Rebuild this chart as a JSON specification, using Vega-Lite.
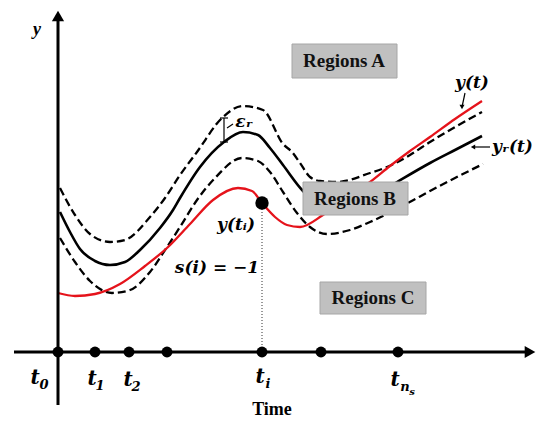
{
  "$schema": "https://vega.github.io/schema/vega-lite/v6.json",
  "width": 543,
  "height": 421,
  "autosize": {"type": "fit", "contains": "padding"},
  "padding": 0,
  "background": "white",
  "config": {"view": {"stroke": null}},
  "datasets": {
    "curves": [
      {"series": "yr", "t": 2, "v": 140}, {"series": "yr", "t": 12, "v": 120}, {"series": "yr", "t": 22, "v": 103}, {"series": "yr", "t": 37, "v": 91}, {"series": "yr", "t": 52, "v": 87}, {"series": "yr", "t": 67, "v": 90}, {"series": "yr", "t": 82, "v": 102}, {"series": "yr", "t": 102, "v": 124}, {"series": "yr", "t": 115, "v": 142}, {"series": "yr", "t": 122, "v": 154}, {"series": "yr", "t": 142, "v": 185}, {"series": "yr", "t": 166, "v": 210}, {"series": "yr", "t": 185, "v": 220}, {"series": "yr", "t": 200, "v": 217}, {"series": "yr", "t": 212, "v": 204}, {"series": "yr", "t": 225, "v": 187}, {"series": "yr", "t": 245, "v": 161}, {"series": "yr", "t": 267, "v": 145}, {"series": "yr", "t": 292, "v": 146}, {"series": "yr", "t": 317, "v": 157}, {"series": "yr", "t": 339, "v": 170}, {"series": "yr", "t": 372, "v": 189}, {"series": "yr", "t": 397, "v": 202}, {"series": "yr", "t": 424, "v": 216},
      {"series": "upper", "t": 2, "v": 164}, {"series": "upper", "t": 17, "v": 137}, {"series": "upper", "t": 32, "v": 118}, {"series": "upper", "t": 52, "v": 110}, {"series": "upper", "t": 67, "v": 112}, {"series": "upper", "t": 92, "v": 135}, {"series": "upper", "t": 107, "v": 154}, {"series": "upper", "t": 122, "v": 177}, {"series": "upper", "t": 139, "v": 200}, {"series": "upper", "t": 164, "v": 234}, {"series": "upper", "t": 185, "v": 246}, {"series": "upper", "t": 205, "v": 242}, {"series": "upper", "t": 225, "v": 208}, {"series": "upper", "t": 234, "v": 200}, {"series": "upper", "t": 242, "v": 189}, {"series": "upper", "t": 252, "v": 175}, {"series": "upper", "t": 262, "v": 171}, {"series": "upper", "t": 279, "v": 170}, {"series": "upper", "t": 312, "v": 179}, {"series": "upper", "t": 329, "v": 185}, {"series": "upper", "t": 352, "v": 197}, {"series": "upper", "t": 372, "v": 210}, {"series": "upper", "t": 397, "v": 225}, {"series": "upper", "t": 424, "v": 240},
      {"series": "lower", "t": 2, "v": 114}, {"series": "lower", "t": 17, "v": 90}, {"series": "lower", "t": 32, "v": 71}, {"series": "lower", "t": 54, "v": 59}, {"series": "lower", "t": 72, "v": 62}, {"series": "lower", "t": 92, "v": 80}, {"series": "lower", "t": 109, "v": 105}, {"series": "lower", "t": 122, "v": 125}, {"series": "lower", "t": 139, "v": 152}, {"series": "lower", "t": 157, "v": 174}, {"series": "lower", "t": 184, "v": 194}, {"series": "lower", "t": 200, "v": 191}, {"series": "lower", "t": 212, "v": 180}, {"series": "lower", "t": 225, "v": 160}, {"series": "lower", "t": 239, "v": 139}, {"series": "lower", "t": 252, "v": 125}, {"series": "lower", "t": 269, "v": 118}, {"series": "lower", "t": 292, "v": 122}, {"series": "lower", "t": 312, "v": 130}, {"series": "lower", "t": 350, "v": 149}, {"series": "lower", "t": 372, "v": 161}, {"series": "lower", "t": 397, "v": 174}, {"series": "lower", "t": 425, "v": 188},
      {"series": "y", "t": 0, "v": 59}, {"series": "y", "t": 17, "v": 56}, {"series": "y", "t": 37, "v": 58}, {"series": "y", "t": 62, "v": 68}, {"series": "y", "t": 87, "v": 86}, {"series": "y", "t": 109, "v": 104}, {"series": "y", "t": 132, "v": 128}, {"series": "y", "t": 155, "v": 152}, {"series": "y", "t": 180, "v": 164}, {"series": "y", "t": 194, "v": 161}, {"series": "y", "t": 204, "v": 149}, {"series": "y", "t": 217, "v": 135}, {"series": "y", "t": 229, "v": 127}, {"series": "y", "t": 242, "v": 125}, {"series": "y", "t": 265, "v": 137}, {"series": "y", "t": 287, "v": 153}, {"series": "y", "t": 312, "v": 170}, {"series": "y", "t": 332, "v": 186}, {"series": "y", "t": 352, "v": 201}, {"series": "y", "t": 372, "v": 215}, {"series": "y", "t": 397, "v": 233}, {"series": "y", "t": 424, "v": 251}
    ],
    "marker": [{"t": 204, "v": 149, "base": 0}],
    "axes": [
      {"t": 0, "v": -53, "t2": 0, "v2": 336},
      {"t": -44, "v": 0, "t2": 472, "v2": 0}
    ],
    "samples": [
      {"label": "t0", "t": 0, "v": 0}, {"label": "t1", "t": 37, "v": 0}, {"label": "t2", "t": 71, "v": 0}, {"label": "t3", "t": 109, "v": 0},
      {"label": "ti", "t": 204, "v": 0}, {"label": "t5", "t": 263, "v": 0}, {"label": "tns", "t": 340, "v": 0}
    ],
    "pointers": [
      {"t": 407, "v": 259, "t2": 404, "v2": 245},
      {"t": 432, "v": 205, "t2": 415, "v2": 205},
      {"t": 166, "v": 234, "t2": 166, "v2": 210},
      {"t": 162, "v": 234, "t2": 170, "v2": 234},
      {"t": 162, "v": 210, "t2": 170, "v2": 210},
      {"t": 175, "v": 228, "t2": 169, "v2": 224}
    ],
    "boxes": [
      {"name": "Regions A", "t": 234, "t2": 339, "v": 274, "v2": 308, "tc": 286, "vc": 291},
      {"name": "Regions B", "t": 245, "t2": 350, "v": 137, "v2": 170, "tc": 297, "vc": 153},
      {"name": "Regions C", "t": 262, "t2": 368, "v": 38, "v2": 70, "tc": 315, "vc": 54}
    ],
    "mathLabels": [
      {"text": "y(t)", "t": 414, "v": 269},
      {"text": "y(tᵢ)", "t": 178, "v": 127},
      {"text": "s(i) = −1", "t": 159, "v": 84},
      {"text": "εᵣ", "t": 186, "v": 230}
    ],
    "timeBase": [
      {"text": "t", "t": -23, "v": -26},
      {"text": "t", "t": 34, "v": -27},
      {"text": "t", "t": 70, "v": -28},
      {"text": "t", "t": 202, "v": -25},
      {"text": "t", "t": 337, "v": -28}
    ],
    "timeSub": [
      {"text": "0", "t": -14, "v": -33},
      {"text": "1", "t": 42, "v": -34},
      {"text": "2", "t": 78, "v": -35},
      {"text": "i", "t": 210, "v": -32},
      {"text": "n", "t": 347, "v": -35}
    ],
    "timeSubSub": [
      {"text": "s", "t": 354, "v": -40}
    ],
    "leftLabels": [
      {"text": "yᵣ(t)", "t": 434, "v": 205}
    ],
    "italicLabels": [
      {"text": "y", "t": -21, "v": 322}
    ],
    "titles": [
      {"text": "Time", "t": 214, "v": -58}
    ]
  },
  "encoding": {
    "x": {"field": "t", "type": "quantitative", "scale": {"domain": [-58, 485], "nice": false, "zero": false}, "axis": null},
    "y": {"field": "v", "type": "quantitative", "scale": {"domain": [-69, 352], "nice": false, "zero": false}, "axis": null}
  },
  "layer": [
    {
      "data": {"name": "curves"},
      "transform": [{"filter": "datum.series === 'upper' || datum.series === 'lower'"}],
      "mark": {"type": "line", "color": "black", "strokeWidth": 2.3, "strokeDash": [8, 4], "interpolate": "monotone"},
      "encoding": {"detail": {"field": "series"}}
    },
    {
      "data": {"name": "curves"},
      "transform": [{"filter": "datum.series === 'yr'"}],
      "mark": {"type": "line", "color": "black", "strokeWidth": 2.6, "interpolate": "monotone"},
      "encoding": {}
    },
    {
      "data": {"name": "curves"},
      "transform": [{"filter": "datum.series === 'y'"}],
      "mark": {"type": "line", "color": "#e5131b", "strokeWidth": 2.3, "interpolate": "monotone"},
      "encoding": {}
    },
    {
      "data": {"name": "marker"},
      "mark": {"type": "rule", "color": "#333", "strokeWidth": 1, "strokeDash": [1, 2]},
      "encoding": {"y2": {"field": "base"}}
    },
    {
      "data": {"name": "marker"},
      "mark": {"type": "circle", "color": "black", "size": 180, "opacity": 1},
      "encoding": {}
    },
    {
      "data": {"name": "axes"},
      "mark": {"type": "rule", "color": "black", "strokeWidth": 3},
      "encoding": {"x2": {"field": "t2"}, "y2": {"field": "v2"}}
    },
    {
      "data": {"name": "axes"},
      "transform": [{"filter": "datum.t === 0"}],
      "mark": {"type": "point", "shape": "triangle-up", "filled": true, "color": "black", "size": 150, "opacity": 1},
      "encoding": {"y": {"field": "v2", "type": "quantitative"}}
    },
    {
      "data": {"name": "axes"},
      "transform": [{"filter": "datum.v === 0"}],
      "mark": {"type": "point", "shape": "triangle-right", "filled": true, "color": "black", "size": 150, "opacity": 1},
      "encoding": {"x": {"field": "t2", "type": "quantitative"}}
    },
    {
      "data": {"name": "samples"},
      "mark": {"type": "circle", "color": "black", "size": 120, "opacity": 1},
      "encoding": {}
    },
    {
      "data": {"name": "pointers"},
      "mark": {"type": "rule", "color": "black", "strokeWidth": 1.2},
      "encoding": {"x2": {"field": "t2"}, "y2": {"field": "v2"}}
    },
    {
      "data": {"name": "pointers"},
      "transform": [{"filter": "datum.t === 407"}],
      "mark": {"type": "point", "shape": "triangle-down", "filled": true, "color": "black", "size": 25, "opacity": 1},
      "encoding": {"x": {"field": "t2", "type": "quantitative"}, "y": {"field": "v2", "type": "quantitative"}}
    },
    {
      "data": {"name": "pointers"},
      "transform": [{"filter": "datum.t === 432"}],
      "mark": {"type": "point", "shape": "triangle-left", "filled": true, "color": "black", "size": 25, "opacity": 1},
      "encoding": {"x": {"field": "t2", "type": "quantitative"}, "y": {"field": "v2", "type": "quantitative"}}
    },
    {
      "data": {"name": "boxes"},
      "mark": {"type": "rect", "fill": "#c0c0c0", "stroke": "#a6a6a6", "strokeWidth": 1},
      "encoding": {"x2": {"field": "t2"}, "y2": {"field": "v2"}}
    },
    {
      "data": {"name": "boxes"},
      "mark": {"type": "text", "font": "Liberation Serif", "fontWeight": "bold", "fontSize": 19, "color": "#111", "align": "center", "baseline": "middle"},
      "encoding": {"x": {"field": "tc", "type": "quantitative"}, "y": {"field": "vc", "type": "quantitative"}, "text": {"field": "name"}}
    },
    {
      "data": {"name": "mathLabels"},
      "mark": {"type": "text", "font": "DejaVu Serif", "fontWeight": "bold", "fontStyle": "italic", "fontSize": 17, "color": "black", "align": "center", "baseline": "middle"},
      "encoding": {"text": {"field": "text"}}
    },
    {
      "data": {"name": "timeBase"},
      "mark": {"type": "text", "font": "DejaVu Serif", "fontWeight": "bold", "fontStyle": "italic", "fontSize": 20, "color": "black", "align": "center", "baseline": "middle"},
      "encoding": {"text": {"field": "text"}}
    },
    {
      "data": {"name": "timeSub"},
      "mark": {"type": "text", "font": "DejaVu Serif", "fontWeight": "bold", "fontStyle": "italic", "fontSize": 13, "color": "black", "align": "center", "baseline": "middle"},
      "encoding": {"text": {"field": "text"}}
    },
    {
      "data": {"name": "timeSubSub"},
      "mark": {"type": "text", "font": "DejaVu Serif", "fontWeight": "bold", "fontStyle": "italic", "fontSize": 10, "color": "black", "align": "center", "baseline": "middle"},
      "encoding": {"text": {"field": "text"}}
    },
    {
      "data": {"name": "leftLabels"},
      "mark": {"type": "text", "font": "DejaVu Serif", "fontWeight": "bold", "fontStyle": "italic", "fontSize": 17, "color": "black", "align": "left", "baseline": "middle"},
      "encoding": {"text": {"field": "text"}}
    },
    {
      "data": {"name": "italicLabels"},
      "mark": {"type": "text", "font": "Liberation Serif", "fontWeight": "bold", "fontStyle": "italic", "fontSize": 18, "color": "black", "align": "center", "baseline": "middle"},
      "encoding": {"text": {"field": "text"}}
    },
    {
      "data": {"name": "titles"},
      "mark": {"type": "text", "font": "Liberation Serif", "fontWeight": "bold", "fontSize": 18, "color": "black", "align": "center", "baseline": "middle"},
      "encoding": {"text": {"field": "text"}}
    }
  ]
}
